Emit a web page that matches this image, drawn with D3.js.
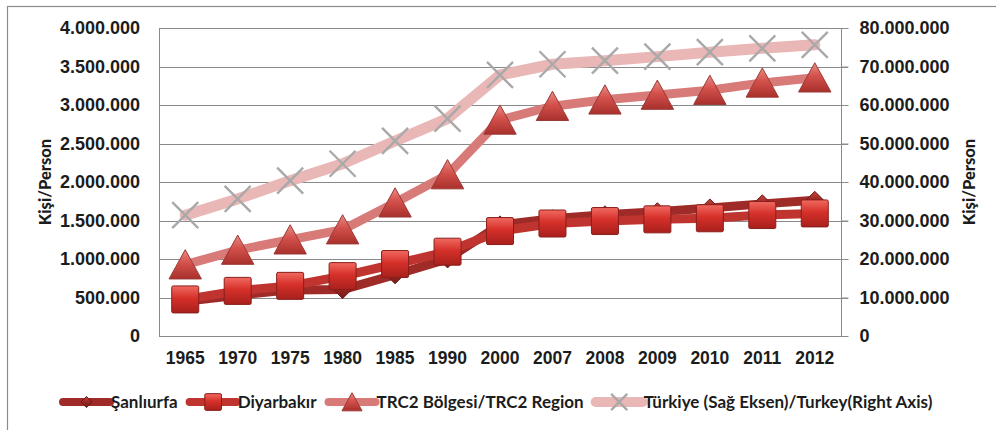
<!DOCTYPE html>
<html>
<head>
<meta charset="utf-8">
<script src="https://cdn.jsdelivr.net/npm/d3@7"></script>
<style>
  html, body { margin: 0; padding: 0; background: #fff; }
  svg { display: block; font-family: Lato, "Open Sans", "Liberation Sans", Arial, sans-serif; }
</style>
</head>
<body>
<svg id="chart" width="996" height="430"></svg>
<script>
const years = ["1965","1970","1975","1980","1985","1990","2000","2007","2008","2009","2010","2011","2012"];
const sanliurfa = [451000, 530000, 599000, 603000, 795000, 1001000, 1443000, 1523000, 1574000, 1614000, 1663000, 1716000, 1762000];
const diyarbakir = [475000, 586000, 651000, 778000, 935000, 1095000, 1363000, 1461000, 1493000, 1515000, 1529000, 1571000, 1592000];
const trc2 = [926000, 1116000, 1250000, 1381000, 1730000, 2096000, 2806000, 2984000, 3067000, 3129000, 3192000, 3287000, 3354000];
const turkiye = [31391000, 35605000, 40348000, 44737000, 50664000, 56473000, 67804000, 70586000, 71517000, 72561000, 73723000, 74724000, 75628000];
const leftTicks = [0, 500000, 1000000, 1500000, 2000000, 2500000, 3000000, 3500000, 4000000];
const rightTicks = [0, 10000000, 20000000, 30000000, 40000000, 50000000, 60000000, 70000000, 80000000];
const seriesNames = ["Şanlıurfa", "Diyarbakır", "TRC2 Bölgesi/TRC2 Region", "Türkiye (Sağ Eksen)/Turkey(Right Axis)"];
const axisTitle = "Kişi/Person";

const svg = d3.select("#chart");
const m = { left: 159, right: 841, top: 28, bottom: 336 };
const txt = "#1c1c1c";
const axFont = 18;

// Frame
svg.append("rect").attr("x", 7.5).attr("y", 6.5).attr("width", 1100).attr("height", 500)
  .attr("fill", "#fff").attr("stroke", "#8c8c8c").attr("stroke-width", 1.2);

const x = d3.scaleBand().domain(years).range([m.left, m.right]);
const yL = d3.scaleLinear().domain([0, 4000000]).range([m.bottom, m.top]);
const yR = d3.scaleLinear().domain([0, 80000000]).range([m.bottom, m.top]);
const fmt = v => d3.format(",")(v).replace(/,/g, ".");

const defs = svg.append("defs");
function grad(id, c1, c2, c3) {
  const g = defs.append("linearGradient").attr("id", id).attr("x1", 0).attr("y1", 0).attr("x2", 0).attr("y2", 1);
  g.append("stop").attr("offset", "0%").attr("stop-color", c1);
  g.append("stop").attr("offset", "45%").attr("stop-color", c2);
  g.append("stop").attr("offset", "100%").attr("stop-color", c3);
}
grad("gSq", "#f06a60", "#d6302a", "#a8201c");
grad("gTri", "#e98a84", "#d4514c", "#a8302c");
grad("gDia", "#c4423c", "#9c2824", "#701a18");

// Gridlines
svg.append("g").selectAll("line").data(leftTicks).join("line")
  .attr("x1", m.left).attr("x2", m.right + 7)
  .attr("y1", d => Math.round(yL(d)) + 0.5).attr("y2", d => Math.round(yL(d)) + 0.5)
  .attr("stroke", "#8a8a8a").attr("stroke-width", 1);

// Left axis line
svg.append("line").attr("x1", m.left + 0.5).attr("x2", m.left + 0.5).attr("y1", m.top).attr("y2", m.bottom)
  .attr("stroke", "#8a8a8a");
// Right axis
const rAxis = d3.axisRight(yR).tickValues(rightTicks).tickFormat(fmt).tickSize(7).tickPadding(11);
const gR = svg.append("g").attr("transform", `translate(${m.right + 0.5},0)`).call(rAxis);
gR.select(".domain").attr("stroke", "#8a8a8a").attr("d", `M0,${m.top}V${m.bottom}`);
gR.selectAll(".tick line").attr("stroke", "#8a8a8a");
gR.selectAll("text").attr("fill", txt).attr("font-size", axFont).attr("font-weight", 700);

// Left axis labels
const lAxis = d3.axisLeft(yL).tickValues(leftTicks).tickFormat(fmt).tickSize(0).tickPadding(19);
const gL = svg.append("g").attr("transform", `translate(${m.left},0)`).call(lAxis);
gL.select(".domain").remove();
gL.selectAll("text").attr("fill", txt).attr("font-size", axFont).attr("font-weight", 700);

// X axis labels
const xAxis = d3.axisBottom(x).tickSize(0).tickPadding(16);
const gX = svg.append("g").attr("transform", `translate(0,${m.bottom})`).call(xAxis);
gX.select(".domain").remove();
gX.selectAll("text").attr("fill", txt).attr("font-size", 17.5).attr("font-weight", 700);

// Axis titles
svg.append("text").attr("transform", `translate(51,${(m.top + m.bottom) / 2}) rotate(-90)`)
  .attr("text-anchor", "middle").attr("font-size", 16.5).attr("font-weight", 900).attr("fill", txt).text(axisTitle);
svg.append("text").attr("transform", `translate(975,${(m.top + m.bottom) / 2}) rotate(-90)`)
  .attr("text-anchor", "middle").attr("font-size", 16.5).attr("font-weight", 900).attr("fill", txt).text(axisTitle);

// Marker painters
function diamond(g, cx, cy, s) {
  g.append("path").attr("d", `M${cx},${cy - s}L${cx + s},${cy}L${cx},${cy + s}L${cx - s},${cy}Z`)
    .attr("fill", "url(#gDia)").attr("stroke", "#6a1816").attr("stroke-width", 1);
}
function square(g, cx, cy, s) {
  g.append("rect").attr("x", cx - s).attr("y", cy - s).attr("width", 2 * s).attr("height", 2 * s)
    .attr("rx", 1.5).attr("fill", "url(#gSq)").attr("stroke", "#8a1e1a").attr("stroke-width", 1);
}
function triangle(g, cx, cy, s) {
  g.append("path").attr("d", `M${cx},${cy - s}L${cx + s * 1.08},${cy + s * 0.95}L${cx - s * 1.08},${cy + s * 0.95}Z`)
    .attr("fill", "url(#gTri)").attr("stroke", "#9a3a36").attr("stroke-width", 1);
}
function cross(g, cx, cy, s) {
  g.append("path").attr("d", `M${cx - s},${cy - s}L${cx + s},${cy + s}M${cx + s},${cy - s}L${cx - s},${cy + s}`)
    .attr("stroke", "#a9a9a9").attr("stroke-width", 2.4).attr("fill", "none");
}

const series = [
  { name: seriesNames[0], values: sanliurfa, y: yL, color: "#9e2b28", width: 9, marker: diamond, size: 9 },
  { name: seriesNames[1], values: diyarbakir, y: yL, color: "#c0342f", width: 9, marker: square, size: 13.5 },
  { name: seriesNames[2], values: trc2, y: yL, color: "#d87a78", width: 9, marker: triangle, size: 15 },
  { name: seriesNames[3], values: turkiye, y: yR, color: "#e9b7b6", width: 11, marker: cross, size: 13 }
];

const cx = d => x(d) + x.bandwidth() / 2;
series.forEach(s => {
  const line = d3.line().x((d, i) => cx(years[i])).y(d => s.y(d));
  const g = svg.append("g");
  g.append("path").datum(s.values).attr("d", line).attr("fill", "none")
    .attr("stroke", s.color).attr("stroke-width", s.width).attr("stroke-linejoin", "round").attr("stroke-linecap", "round");
  s.values.forEach((v, i) => s.marker(g, cx(years[i]), s.y(v), s.size));
});

// Legend
const lg = svg.append("g");
let lx = 63;
const ly = 402;
series.forEach((s, i) => {
  const sw = 47;
  lg.append("line").attr("x1", lx).attr("x2", lx + sw).attr("y1", ly).attr("y2", ly)
    .attr("stroke", s.color).attr("stroke-width", s.width - 1).attr("stroke-linecap", "round");
  s.marker(lg, lx + sw / 2, ly, s.size * 0.62);
  const t = lg.append("text").attr("x", lx + sw + 1).attr("y", ly + 6).attr("font-size", 17)
    .attr("font-weight", 700).attr("fill", txt).text(s.name);
  lx += sw + t.node().getComputedTextLength() + 13;
});
</script>
</body>
</html>
